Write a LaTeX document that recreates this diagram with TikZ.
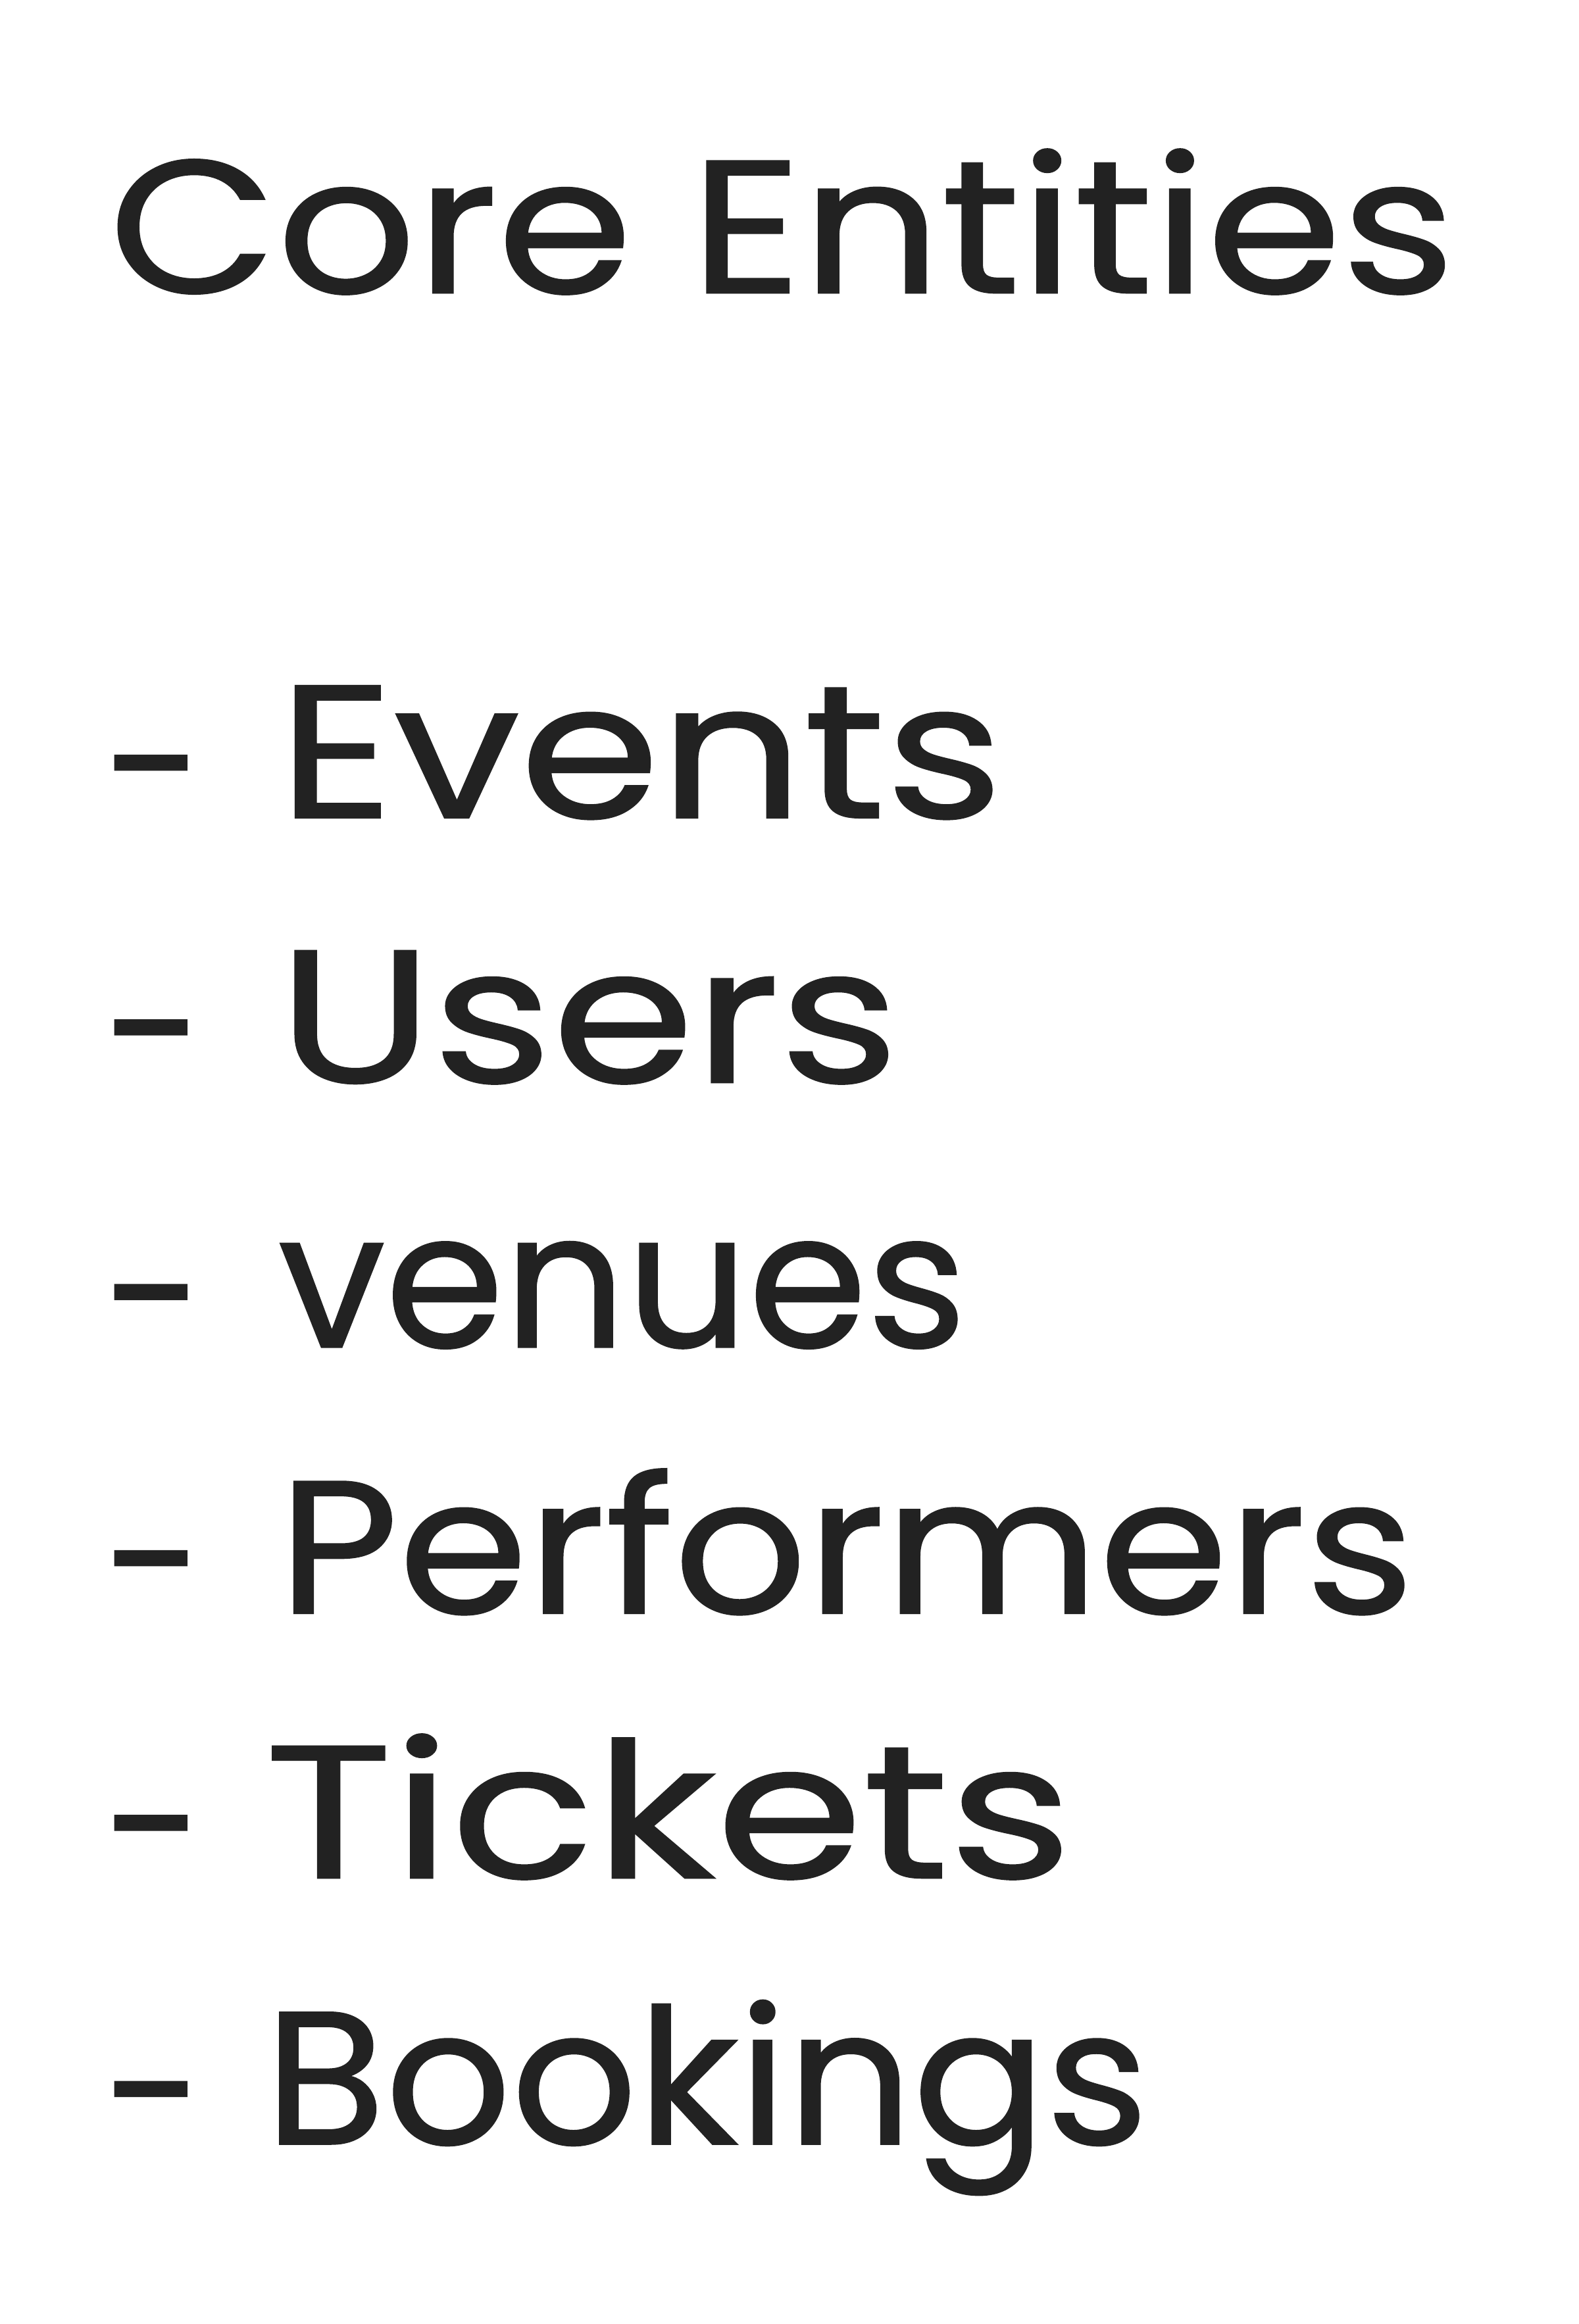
\documentclass[tikz,border=0pt]{standalone}
\usepackage{fontspec}
\setmainfont{Poppins}[FakeBold=0.8]
\definecolor{ink}{HTML}{222222}
\newcommand{\dashitem}{\makebox[2.58cm][l]{\raisebox{-6pt}{\scalebox{0.95}[1]{-}}}}
\begin{document}
\begin{tikzpicture}[x=0.0221cm,y=-0.0221cm,
  txt/.style={anchor=base west,inner sep=0pt,text=ink,font=\fontsize{80}{96}\selectfont}]
\useasboundingbox[fill=white] (0,0) rectangle (1062,1563);
\node[txt] (title) at (73,197) {\scalebox{1.15}[1]{Core Entities}};
\node[txt] (i1) at (70,550) {\dashitem\scalebox{1.19}[1]{Events}};
\node[txt] (i2) at (70,728) {\dashitem\scalebox{1.21}[1]{Users}};
\node[txt] (i3) at (70,906) {\dashitem\scalebox{1.01}[1]{venues}};
\node[txt] (i4) at (70,1085) {\dashitem\scalebox{1.10}[1]{Performers}};
\node[txt] (i5) at (70,1263) {\dashitem\hspace{-0.2cm}\scalebox{1.25}[1]{Tickets}};
\node[txt] (i6) at (70,1442) {\dashitem\hspace{-0.2cm}\scalebox{1.04}[1]{Bookings}};
\end{tikzpicture}
\end{document}
